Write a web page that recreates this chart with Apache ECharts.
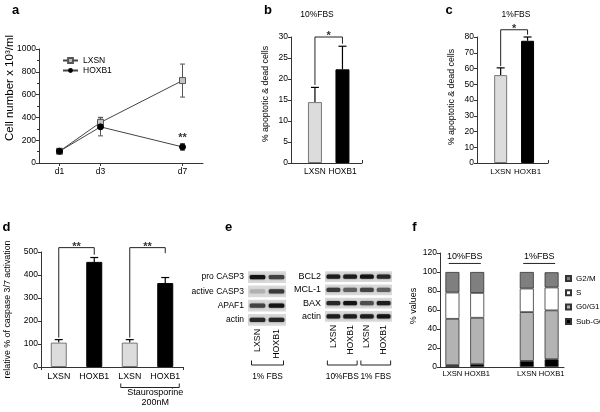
<!DOCTYPE html>
<html><head><meta charset="utf-8">
<script src="https://cdn.jsdelivr.net/npm/echarts@6/dist/echarts.min.js"></script>
<style>html,body{margin:0;padding:0;background:#fff}#c{width:600px;height:412px}</style>
</head><body><div id="c"></div>
<script>
// ---------- data ----------
// Panel a: cell growth
const daysA = [1, 3, 7];
const dayLabelsA = ['d1', 'd3', 'd7'];
const lxsnA = [103, 356, 723];
const lxsnErrA = [0, 45, 145];
const hoxA = [103, 317, 141];
const hoxErrA = [0, 79, 29];
const sigA = ['', '', '**'];
// Panel b / c: % apoptotic & dead cells
const groupsBC = ['LXSN', 'HOXB1'];
const valsB = [14.5, 22.3];
const errB = [3.5, 5.5];
const sigB = ['*'];
const valsC = [55.8, 77.6];
const errC = [4.6, 2.4];
const sigC = ['*'];
// Panel d: caspase 3/7 activation
const catsD = ['LXSN', 'HOXB1', 'LXSN', 'HOXB1'];
const valsD = [106, 457, 106, 365];
const errD = [13, 19, 13, 24];
const sigD = ['**', '**'];
const treatD = ['Staurosporine', '200nM'];
// Panel e: western blots (band intensity 0..1)
const lanesE1 = ['LXSN', 'HOXB1'];
const rowsE1 = ['pro CASP3', 'active CASP3', 'APAF1', 'actin'];
const bandsE1 = [[0.95, 0.7], [0.12, 0.75], [0.7, 0.95], [0.85, 0.85]];
const condE1 = ['1% FBS'];
const lanesE2 = ['LXSN', 'HOXB1', 'LXSN', 'HOXB1'];
const rowsE2 = ['BCL2', 'MCL-1', 'BAX', 'actin'];
const bandsE2 = [[0.9, 0.9, 0.95, 0.85], [0.75, 0.55, 0.7, 0.55], [0.85, 0.95, 0.65, 0.9], [0.9, 0.9, 0.9, 0.95]];
const condE2 = ['10%FBS', '1% FBS'];
// Panel f: cell cycle
const catsF = ['LXSN', 'HOXB1', 'LXSN', 'HOXB1'];
const groupsF = ['10%FBS', '1%FBS'];
const subG0F = [2.0, 3.0, 6.4, 8.2];
const g0g1F = [48.7, 48.8, 51.4, 51.4];
const sF = [27.7, 26.2, 24.8, 24.1];
const g2mF = [21.6, 22.0, 17.4, 16.0];

// ---------- helpers ----------
const FONT = '"Liberation Sans", Arial, Helvetica, sans-serif';
const TXT = '#000';
const AX = '#333';
const LIGHT = '#dcdcdc';

function yAx(gi, min, max, interval, extra) {
  return Object.assign({
    gridIndex: gi, type: 'value', min: min, max: max, interval: interval,
    axisLine: {show: true, lineStyle: {color: AX, width: 1}},
    axisTick: {show: true, length: 3, lineStyle: {color: AX}},
    axisLabel: {fontSize: 8.5, color: TXT, margin: 3, fontFamily: FONT, showMinLabel: true, showMaxLabel: true, formatter: v => String(v)},
    splitLine: {show: false}
  }, extra || {});
}
function errUp(capW) {
  return function (params, api) {
    const x = api.value(0), v = api.value(1), e = api.value(2);
    const p0 = api.coord([x, v]), p1 = api.coord([x, v + e]);
    return {type: 'group', children: [
      {type: 'line', shape: {x1: p0[0], y1: p0[1], x2: p1[0], y2: p1[1]}, style: {stroke: '#000', lineWidth: 1.2}},
      {type: 'line', shape: {x1: p1[0] - capW / 2, y1: p1[1], x2: p1[0] + capW / 2, y2: p1[1]}, style: {stroke: '#000', lineWidth: 1.2}}
    ]};
  };
}
function errBoth(color) {
  return function (params, api) {
    const x = api.value(0), v = api.value(1), e = api.value(2);
    if (!e) return {type: 'group', children: []};
    const lo = api.coord([x, v - e]), hi = api.coord([x, v + e]), cw = 2.5;
    const st = {stroke: color, lineWidth: 1};
    return {type: 'group', children: [
      {type: 'line', shape: {x1: lo[0], y1: lo[1], x2: hi[0], y2: hi[1]}, style: st},
      {type: 'line', shape: {x1: lo[0] - cw, y1: lo[1], x2: lo[0] + cw, y2: lo[1]}, style: st},
      {type: 'line', shape: {x1: hi[0] - cw, y1: hi[1], x2: hi[0] + cw, y2: hi[1]}, style: st}
    ]};
  };
}
function bracket(labels, size) {
  return function (params, api) {
    const x1 = api.value(0), x2 = api.value(1), yt = api.value(2), yl = api.value(3), yr = api.value(4);
    const a = api.coord([x1, yt]), b = api.coord([x2, yt]), c = api.coord([x1, yl]), d = api.coord([x2, yr]);
    return {type: 'group', children: [
      {type: 'polyline', shape: {points: [c, a, b, d]}, style: {stroke: '#222', lineWidth: 1, fill: null}},
      {type: 'text', x: (a[0] + b[0]) / 2, y: a[1] - 1, style: {text: labels[params.dataIndex], fontSize: size, fontFamily: FONT, fontWeight: 'bold', align: 'center', verticalAlign: 'middle', fill: '#333'}}
    ]};
  };
}
function blotBg(params, api) {
  const cs = params.coordSys;
  const c = api.coord([0, api.value(0)]);
  const h = api.size([0, 1])[1];
  return {type: 'rect', shape: {x: cs.x, y: c[1] - h / 2 + 1.2, width: cs.width, height: h - 2.4}, style: {fill: '#d9d9d9'}};
}
function blotBand(params, api) {
  const lane = api.value(0), row = api.value(1), k = api.value(2);
  const c = api.coord([lane, row]);
  const w = api.size([1, 1]);
  const bw = w[0] * 0.82, bh = 4.2;
  const g = Math.round(200 - 190 * k);
  return {type: 'rect', shape: {x: c[0] - bw / 2, y: c[1] - bh / 2, width: bw, height: bh, r: 1.5},
    style: {fill: 'rgb(' + g + ',' + g + ',' + g + ')', shadowBlur: 2, shadowColor: 'rgba(0,0,0,' + (0.6 * k).toFixed(2) + ')'}};
}
function blotBracket(labels, off) {
  return function (params, api) {
    const cs = params.coordSys;
    const a = api.coord([api.value(0), 0]), b = api.coord([api.value(1), 0]);
    const y = cs.y + cs.height + off;
    const x1 = a[0] - 6, x2 = b[0] + 7;
    return {type: 'group', children: [
      {type: 'polyline', shape: {points: [[x1, y - 4.5], [x1, y], [x2, y], [x2, y - 4.5]]}, style: {stroke: '#222', lineWidth: 1, fill: null}},
      {type: 'text', x: (x1 + x2) / 2, y: y + 11.5, style: {text: labels[params.dataIndex], fontSize: 8.4, fontFamily: FONT, align: 'center', verticalAlign: 'middle', fill: TXT}}
    ]};
  };
}

const barsBC = (vals) => vals.map((v, i) => ({value: [i + 1, v], itemStyle: {color: i ? '#000' : LIGHT, borderColor: i ? '#000' : '#777', borderWidth: 1}}));
const catsFfull = [catsF[0], catsF[1], '', catsF[2], catsF[3]];
const gapF = (arr) => [arr[0], arr[1], '-', arr[2], arr[3]];

const option = {
  animation: false,
  textStyle: {fontFamily: FONT},
  grid: [
    {left: 39, top: 49, width: 164, height: 114},
    {left: 291, top: 37, width: 71, height: 126},
    {left: 477, top: 37, width: 71, height: 126},
    {left: 41, top: 252, width: 142, height: 115},
    {left: 248, top: 270, width: 38, height: 57},
    {left: 325, top: 270, width: 67, height: 53},
    {left: 440, top: 253, width: 124, height: 114}
  ].map(g => Object.assign({containLabel: false, outerBoundsMode: 'none'}, g)),
  xAxis: [
    {gridIndex: 0, type: 'value', min: 0, max: 8,
      axisLine: {show: true, lineStyle: {color: AX}},
      axisTick: {show: true, length: 3, customValues: daysA, lineStyle: {color: AX}},
      axisLabel: {fontSize: 8.5, color: TXT, margin: 4, customValues: daysA, formatter: v => dayLabelsA[daysA.indexOf(v)]},
      splitLine: {show: false}},
    {gridIndex: 1, type: 'value', min: 0.13, max: 2.71,
      axisLine: {show: true, lineStyle: {color: AX}},
      axisTick: {show: true, inside: true, length: 3, customValues: [2.71], lineStyle: {color: AX}},
      axisLabel: {fontSize: 8.3, color: TXT, margin: 5, customValues: [1, 2], formatter: v => groupsBC[Math.round(v) - 1]},
      splitLine: {show: false}},
    {gridIndex: 2, type: 'value', min: 0.12, max: 2.76,
      axisLine: {show: true, lineStyle: {color: AX}},
      axisTick: {show: true, inside: true, length: 3, customValues: [2.76], lineStyle: {color: AX}},
      axisLabel: {fontSize: 8, color: TXT, margin: 5, customValues: [1, 2], formatter: v => groupsBC[Math.round(v) - 1]},
      splitLine: {show: false}},
    {gridIndex: 3, type: 'category', data: catsD,
      axisLine: {show: true, lineStyle: {color: AX}},
      axisTick: {show: true, length: 3, interval: (i) => i === 2, lineStyle: {color: AX}},
      axisLabel: {fontSize: 8.8, color: TXT, margin: 5, interval: 0}},
    {gridIndex: 4, type: 'category', data: lanesE1,
      axisLine: {show: false}, axisTick: {show: false},
      axisLabel: {fontSize: 8.8, color: TXT, margin: 2, rotate: 90, interval: 0}},
    {gridIndex: 5, type: 'category', data: lanesE2,
      axisLine: {show: false}, axisTick: {show: false},
      axisLabel: {fontSize: 8.8, color: TXT, margin: 2, rotate: 90, interval: 0}},
    {gridIndex: 6, type: 'category', data: catsFfull,
      axisLine: {show: true, lineStyle: {color: AX}},
      axisTick: {show: false},
      axisLabel: {fontSize: 7.6, color: TXT, margin: 3, interval: 0}}
  ],
  yAxis: [
    yAx(0, 0, 1000, 200, {minorTick: {show: true, splitNumber: 2, length: 2, lineStyle: {color: AX}}}),
    yAx(1, 0, 30, 5),
    yAx(2, 0, 80, 10),
    yAx(3, 0, 500, 100),
    {gridIndex: 4, type: 'category', data: rowsE1, inverse: true, axisLine: {show: false}, axisTick: {show: false},
      axisLabel: {fontSize: 8.5, color: TXT, margin: 4, interval: 0}},
    {gridIndex: 5, type: 'category', data: rowsE2, inverse: true, axisLine: {show: false}, axisTick: {show: false},
      axisLabel: {fontSize: 9, color: TXT, margin: 4, interval: 0}},
    yAx(6, 0, 120, 20)
  ],
  legend: [
    {data: ['LXSN', 'HOXB1'], left: 62, top: 55.5, orient: 'vertical', itemWidth: 15, itemHeight: 6, itemGap: 0,
      padding: 0, selectedMode: false, textStyle: {fontSize: 8.5, lineHeight: 10, color: TXT}},
    {data: ['G2/M', 'S', 'G0/G1', 'Sub-G0'], left: 565, top: 274, orient: 'vertical', icon: 'rect', itemWidth: 5, itemHeight: 5,
      itemGap: 5.3, padding: 0, selectedMode: false, textStyle: {fontSize: 8, lineHeight: 9, color: TXT}}
  ],
  graphic: [
    {type: 'text', x: 15.5, y: 10, style: {text: 'a', font: 'bold 13px ' + FONT, fill: '#000', align: 'center', verticalAlign: 'middle'}},
    {type: 'text', x: 268, y: 10, style: {text: 'b', font: 'bold 13px ' + FONT, fill: '#000', align: 'center', verticalAlign: 'middle'}},
    {type: 'text', x: 449, y: 10, style: {text: 'c', font: 'bold 13px ' + FONT, fill: '#000', align: 'center', verticalAlign: 'middle'}},
    {type: 'text', x: 6.5, y: 227, style: {text: 'd', font: 'bold 13px ' + FONT, fill: '#000', align: 'center', verticalAlign: 'middle'}},
    {type: 'text', x: 228.5, y: 227, style: {text: 'e', font: 'bold 13px ' + FONT, fill: '#000', align: 'center', verticalAlign: 'middle'}},
    {type: 'text', x: 414.5, y: 227, style: {text: 'f', font: 'bold 13px ' + FONT, fill: '#000', align: 'center', verticalAlign: 'middle'}},
    {type: 'text', x: 317, y: 14.5, style: {text: '10%FBS', font: '8.5px ' + FONT, fill: TXT, align: 'center', verticalAlign: 'middle'}},
    {type: 'text', x: 516, y: 14.5, style: {text: '1%FBS', font: '8.5px ' + FONT, fill: TXT, align: 'center', verticalAlign: 'middle'}},
    {type: 'text', x: 9.5, y: 88, rotation: Math.PI / 2, style: {text: 'Cell number x 10³/ml', font: '11.5px ' + FONT, fill: TXT, align: 'center', verticalAlign: 'middle'}},
    {type: 'text', x: 266, y: 94, rotation: Math.PI / 2, style: {text: '% apoptotic & dead cells', font: '8.8px ' + FONT, fill: TXT, align: 'center', verticalAlign: 'middle'}},
    {type: 'text', x: 452, y: 97, rotation: Math.PI / 2, style: {text: '% apoptotic & dead cells', font: '8.8px ' + FONT, fill: TXT, align: 'center', verticalAlign: 'middle'}},
    {type: 'text', x: 7.5, y: 309.5, rotation: Math.PI / 2, style: {text: 'relative % of caspase 3/7 activation', font: '8.8px ' + FONT, fill: TXT, align: 'center', verticalAlign: 'middle'}},
    {type: 'text', x: 414, y: 306, rotation: Math.PI / 2, style: {text: '% values', font: '9px ' + FONT, fill: TXT, align: 'center', verticalAlign: 'middle'}}
  ],
  series: [
    // ---- a ----
    {name: 'LXSN', type: 'line', xAxisIndex: 0, yAxisIndex: 0, z: 3,
      data: daysA.map((d, i) => [d, lxsnA[i]]),
      symbol: 'rect', symbolSize: 6, lineStyle: {color: '#444', width: 1},
      itemStyle: {color: '#c4c4c4', borderColor: '#555', borderWidth: 1}},
    {name: 'HOXB1', type: 'line', xAxisIndex: 0, yAxisIndex: 0, z: 4,
      data: daysA.map((d, i) => [d, hoxA[i]]),
      symbol: 'circle', symbolSize: 6, lineStyle: {color: '#444', width: 1},
      itemStyle: {color: '#000', borderColor: '#000'},
      label: {show: true, position: 'top', distance: 0, fontSize: 11, fontWeight: 'bold', color: '#333',
        formatter: p => sigA[p.dataIndex]}},
    {type: 'custom', xAxisIndex: 0, yAxisIndex: 0, z: 2, renderItem: errBoth('#555'),
      data: daysA.map((d, i) => [d, lxsnA[i], lxsnErrA[i]])},
    {type: 'custom', xAxisIndex: 0, yAxisIndex: 0, z: 2, renderItem: errBoth('#555'),
      data: daysA.map((d, i) => [d, hoxA[i], hoxErrA[i]])},
    // ---- b ----
    {type: 'bar', xAxisIndex: 1, yAxisIndex: 1, barWidth: 14, data: barsBC(valsB)},
    {type: 'custom', xAxisIndex: 1, yAxisIndex: 1, renderItem: errUp(8), data: valsB.map((v, i) => [i + 1, v, errB[i]])},
    {type: 'custom', xAxisIndex: 1, yAxisIndex: 1, renderItem: bracket(sigB, 11), data: [[1, 2, 30, 18.6, 28.4]]},
    // ---- c ----
    {type: 'bar', xAxisIndex: 2, yAxisIndex: 2, barWidth: 13, data: barsBC(valsC)},
    {type: 'custom', xAxisIndex: 2, yAxisIndex: 2, renderItem: errUp(8), data: valsC.map((v, i) => [i + 1, v, errC[i]])},
    {type: 'custom', xAxisIndex: 2, yAxisIndex: 2, renderItem: bracket(sigC, 11), data: [[1, 2, 84.6, 61.5, 81.5]]},
    // ---- d ----
    {type: 'bar', xAxisIndex: 3, yAxisIndex: 3, barWidth: 16,
      data: valsD.map((v, i) => ({value: v, itemStyle: {color: i % 2 ? '#000' : LIGHT, borderColor: i % 2 ? '#000' : '#777', borderWidth: 1}}))},
    {type: 'custom', xAxisIndex: 3, yAxisIndex: 3, renderItem: errUp(8), data: valsD.map((v, i) => [i, v, errD[i]])},
    {type: 'custom', xAxisIndex: 3, yAxisIndex: 3, renderItem: bracket(sigD, 11), data: [[0, 1, 519, 128, 488], [2, 3, 519, 128, 495]]},
    {type: 'custom', xAxisIndex: 3, yAxisIndex: 3, clip: false, data: [[2, 3]],
      renderItem: function (params, api) {
        const a = api.coord([api.value(0), 0]), b = api.coord([api.value(1), 0]);
        const x1 = a[0] - 9, x2 = b[0] + 14, y = a[1] + 20.5, cx = b[0] - 10;
        return {type: 'group', children: [
          {type: 'polyline', shape: {points: [[x1, y - 4], [x1, y], [x2, y], [x2, y - 4]]}, style: {stroke: '#222', lineWidth: 1, fill: null}},
          {type: 'text', x: cx, y: y + 5.5, style: {text: treatD[0], fontSize: 9, fontFamily: FONT, align: 'center', verticalAlign: 'middle', fill: TXT}},
          {type: 'text', x: cx, y: y + 15, style: {text: treatD[1], fontSize: 9, fontFamily: FONT, align: 'center', verticalAlign: 'middle', fill: TXT}}
        ]};
      }},
    // ---- e (blots) ----
    {type: 'custom', xAxisIndex: 4, yAxisIndex: 4, z: 1, renderItem: blotBg, data: rowsE1.map((r, i) => [i])},
    {type: 'custom', xAxisIndex: 4, yAxisIndex: 4, z: 2, renderItem: blotBand,
      data: bandsE1.flatMap((row, r) => row.map((k, l) => [l, r, k]))},
    {type: 'custom', xAxisIndex: 4, yAxisIndex: 4, clip: false, renderItem: blotBracket(condE1, 38), data: [[0, 1]]},
    {type: 'custom', xAxisIndex: 5, yAxisIndex: 5, z: 1, renderItem: blotBg, data: rowsE2.map((r, i) => [i])},
    {type: 'custom', xAxisIndex: 5, yAxisIndex: 5, z: 2, renderItem: blotBand,
      data: bandsE2.flatMap((row, r) => row.map((k, l) => [l, r, k]))},
    {type: 'custom', xAxisIndex: 5, yAxisIndex: 5, clip: false, renderItem: blotBracket(condE2, 42), data: [[0, 1], [2, 3]]},
    // ---- f ----
    {name: 'Sub-G0', type: 'bar', stack: 'f', xAxisIndex: 6, yAxisIndex: 6, barWidth: 14, data: gapF(subG0F),
      itemStyle: {color: '#000', borderColor: '#333', borderWidth: 0.8}},
    {name: 'G0/G1', type: 'bar', stack: 'f', xAxisIndex: 6, yAxisIndex: 6, barWidth: 14, data: gapF(g0g1F),
      itemStyle: {color: '#b3b3b3', borderColor: '#333', borderWidth: 0.8}},
    {name: 'S', type: 'bar', stack: 'f', xAxisIndex: 6, yAxisIndex: 6, barWidth: 14, data: gapF(sF),
      itemStyle: {color: '#fff', borderColor: '#333', borderWidth: 0.8}},
    {name: 'G2/M', type: 'bar', stack: 'f', xAxisIndex: 6, yAxisIndex: 6, barWidth: 14, data: gapF(g2mF),
      itemStyle: {color: '#7f7f7f', borderColor: '#333', borderWidth: 0.8}},
    {type: 'custom', xAxisIndex: 6, yAxisIndex: 6, data: [[0, 1], [3, 4]],
      renderItem: function (params, api) {
        const a = api.coord([api.value(0), 109]), b = api.coord([api.value(1), 109]);
        const x1 = a[0] - 3.6, x2 = b[0] + 3.6;
        return {type: 'group', children: [
          {type: 'line', shape: {x1: x1, y1: a[1], x2: x2, y2: a[1]}, style: {stroke: '#222', lineWidth: 1}},
          {type: 'text', x: (x1 + x2) / 2, y: a[1] - 6.5, style: {text: groupsF[params.dataIndex], fontSize: 9, fontFamily: FONT, align: 'center', verticalAlign: 'middle', fill: TXT}}
        ]};
      }}
  ]
};
const chart = echarts.init(document.getElementById('c'));
chart.setOption(option);
</script>
</body></html>
